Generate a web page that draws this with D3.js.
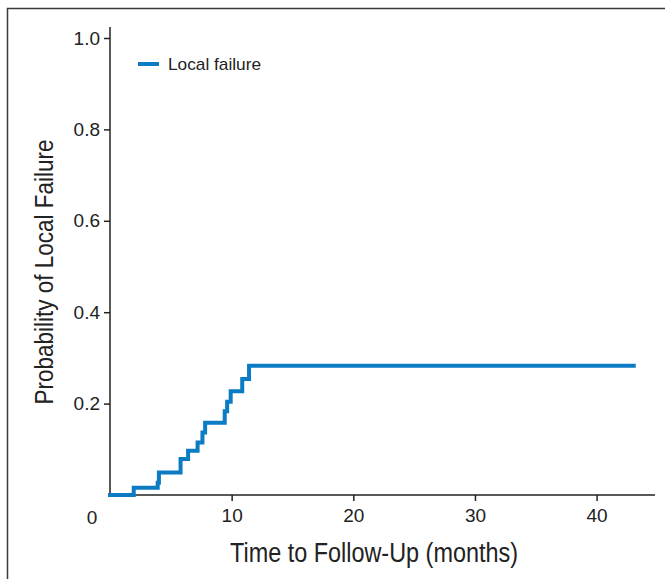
<!DOCTYPE html>
<html>
<head>
<meta charset="utf-8">
<script src="https://cdn.jsdelivr.net/npm/d3@7"></script>
<style>
  html, body { margin: 0; padding: 0; background: #fff; }
  svg { display: block; }
</style>
</head>
<body>
<svg id="chart" width="665" height="579"></svg>
<script>
// Kaplan-Meier style cumulative incidence
var times = [0, 1.95, 3.92, 4.02, 5.8, 6.42, 7.2, 7.6, 7.82, 9.43, 9.63, 9.92, 10.87, 11.43, 43.05];
var probs = [0, 0.016, 0.027, 0.049, 0.079, 0.097, 0.115, 0.137, 0.158, 0.183, 0.204, 0.227, 0.254, 0.283, 0.283];
var xTicks = [10, 20, 30, 40];
var yTicks = [0.2, 0.4, 0.6, 0.8, 1.0];
var seriesName = "Local failure";

var blue = "#0b7bc4";
var sans = "'Liberation Sans', Arial, Helvetica, sans-serif";

var svg = d3.select("#chart");

var x = d3.scaleLinear().domain([0, 44.8]).range([110, 655]);
var y = d3.scaleLinear().domain([0, 1]).range([495, 38]);

// outer frame (left + top edges only)
svg.append("path")
    .attr("d", "M7.5,579 L7.5,8.5 L665,8.5")
    .attr("fill", "none")
    .attr("stroke", "#3a3a3a")
    .attr("stroke-width", 1.5);

// y axis
var yAxis = d3.axisLeft(y).tickValues(yTicks).tickSize(6).tickPadding(4)
    .tickFormat(d3.format(".1f"));
var gy = svg.append("g").attr("transform", "translate(" + x(0) + ",0)").call(yAxis);
gy.select(".domain").attr("d", "M0," + 27 + "V" + y(0));
gy.selectAll("line, path").attr("stroke", "#222").attr("stroke-width", 1.5);
gy.selectAll("text").attr("font-family", sans).attr("font-size", 19).attr("fill", "#222");

// x axis
var xAxis = d3.axisBottom(x).tickValues(xTicks).tickSize(6).tickPadding(8)
    .tickFormat(d3.format("d"));
var gx = svg.append("g").attr("transform", "translate(0," + y(0) + ")").call(xAxis);
gx.select(".domain").attr("d", "M" + x(0) + ",0H" + x(44.8));
gx.selectAll("line, path").attr("stroke", "#222").attr("stroke-width", 1.5);
gx.selectAll("text").attr("font-family", sans).attr("font-size", 19).attr("fill", "#222");

// shared origin label
svg.append("text")
    .attr("x", x(0) - 18)
    .attr("y", y(0) + 29)
    .attr("text-anchor", "middle")
    .attr("font-family", sans)
    .attr("font-size", 19)
    .attr("fill", "#222")
    .text("0");

// step curve
var line = d3.line()
    .x(function (d, i) { return x(times[i]); })
    .y(function (d) { return y(d); })
    .curve(d3.curveStepAfter);

svg.append("path")
    .datum(probs)
    .attr("d", line)
    .attr("fill", "none")
    .attr("stroke", blue)
    .attr("stroke-width", 4)
    .attr("stroke-linecap", "square");

// legend
svg.append("line")
    .attr("x1", 138).attr("x2", 159)
    .attr("y1", 64).attr("y2", 64)
    .attr("stroke", blue)
    .attr("stroke-width", 4);
svg.append("text")
    .attr("x", 168)
    .attr("y", 70)
    .attr("font-family", sans)
    .attr("font-size", 17)
    .attr("textLength", 93)
    .attr("lengthAdjust", "spacingAndGlyphs")
    .attr("fill", "#222")
    .text(seriesName);

// axis titles
svg.append("text")
    .attr("x", 374)
    .attr("y", 562)
    .attr("text-anchor", "middle")
    .attr("font-family", sans)
    .attr("font-size", 27)
    .attr("textLength", 288)
    .attr("lengthAdjust", "spacingAndGlyphs")
    .attr("fill", "#222")
    .text("Time to Follow-Up (months)");

svg.append("text")
    .attr("transform", "translate(53,272) rotate(-90)")
    .attr("text-anchor", "middle")
    .attr("font-family", sans)
    .attr("font-size", 26)
    .attr("textLength", 265)
    .attr("lengthAdjust", "spacingAndGlyphs")
    .attr("fill", "#222")
    .text("Probability of Local Failure");
</script>
</body>
</html>
